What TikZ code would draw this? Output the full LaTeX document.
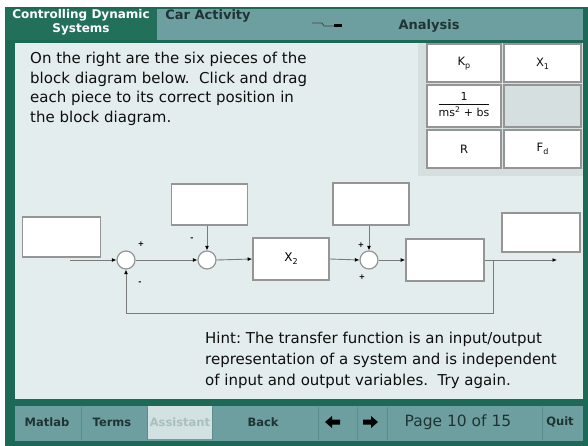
\documentclass[tikz,border=0pt]{standalone}
\usepackage{fontspec}
\setmainfont{DejaVu Sans}
\usetikzlibrary{arrows.meta}
\definecolor{framegreen}{HTML}{1C6A55}
\definecolor{tabgreen}{HTML}{22705A}
\definecolor{barteal}{HTML}{6E9FA0}
\definecolor{pagebg}{HTML}{E4EDED}
\definecolor{panelbg}{HTML}{D5DFDF}
\definecolor{boxline}{HTML}{959595}
\definecolor{wireclr}{HTML}{7A7A7A}
\definecolor{btntext}{HTML}{1E3434}
\definecolor{btndim}{HTML}{A9BEBE}
\definecolor{btnhi}{HTML}{D2E1E1}
\definecolor{sepline}{HTML}{5D8B8B}
\definecolor{bodytext}{HTML}{0E0E0E}
\begin{document}
\begin{tikzpicture}[x=1pt,y=-1pt,
  blk/.style={draw=boxline,line width=1.6pt,fill=white,inner sep=0pt,minimum width=76pt,minimum height=40pt},
  cell/.style={draw=boxline,line width=2pt,fill=white,inner sep=0pt,minimum width=74pt,minimum height=38pt,font=\fontsize{11.5}{11.5}\selectfont,text=bodytext},
  sumj/.style={circle,draw=boxline,line width=1.2pt,fill=white,minimum size=18pt,inner sep=0pt},
  wireln/.style={draw=wireclr,line width=0.9pt},
  arr/.style={wireln,-{Latex[length=4.5pt,width=4pt,color=black]}},
  sgn/.style={font=\fontsize{7.5}{7.5}\selectfont\bfseries,text=black,inner sep=0pt},
  bartext/.style={font=\fontsize{13}{13}\selectfont\bfseries,text=btntext,inner sep=0pt},
  btn/.style={font=\fontsize{11.5}{11.5}\selectfont\bfseries,text=btntext,inner sep=0pt},
  sep/.style={draw=sepline,line width=0.8pt}
]
\useasboundingbox (0,0) rectangle (588,446);
% window frame and panels
\fill[white] (0,0) rectangle (588,446);
\fill[framegreen] (5,7) rectangle (588,446);
\fill[barteal] (157,9) rectangle (583,40);
\fill[tabgreen] (6,9) rectangle (157,40);
\fill[pagebg] (15,43) rectangle (583,399);
\fill[barteal] (15,406) rectangle (583,441);

% title bar
\node[font=\fontsize{12}{14}\selectfont\bfseries,text=white,align=center,inner sep=0pt] (tab) at (81,22.5) {Controlling Dynamic\\Systems};
\node[bartext] (activity) at (208,16) {Car Activity};
\node[bartext] (analysis) at (429,26) {Analysis};
\draw[black!75,line width=0.8pt] (312,23) -- (322,23) -- (324,26) -- (336,26);
\fill[black] (334,24.5) rectangle (342,27.5);

% instructions
\node[anchor=north west,align=left,inner sep=0pt,font=\fontsize{15}{19.6}\selectfont,text=bodytext] (intro) at (30,52) {On the right are the six pieces of the\\block diagram below.\ \ Click and drag\\each piece to its correct position in\\the block diagram.};

% tray of pieces
\fill[panelbg] (418,43) rectangle (583,176);
\node[cell] (kp) at (464,63.5) {K\raisebox{-3pt}{\fontsize{8}{8}\selectfont p}};
\node[cell,minimum width=77pt] (xone) at (542.5,63.5) {X\raisebox{-3pt}{\fontsize{8}{8}\selectfont 1}};
\node[cell,minimum height=42pt] (plant) at (464,106) {\fontsize{11}{11}\selectfont\begin{tabular}{@{}c@{}}1\\[1pt]\hline\rule{0pt}{12pt}ms\textsuperscript{2} + bs\end{tabular}};
\node[cell,fill=panelbg,minimum width=77pt,minimum height=42pt] (slot) at (542.5,106) {};
\node[cell] (ref) at (464,149) {R};
\node[cell,minimum width=77pt] (dist) at (542.5,149) {F\raisebox{-3pt}{\fontsize{8}{8}\selectfont d}};

% block diagram
\node[blk,minimum width=78pt] (A) at (61.5,237) {};
\node[blk,minimum height=41pt] (B) at (209.5,204.5) {};
\node[blk,minimum height=42pt] (X2) at (291,259) {\fontsize{12}{12}\selectfont X\raisebox{-3pt}{\fontsize{8}{8}\selectfont 2}};
\node[blk,minimum height=42pt] (C) at (371,204) {};
\node[blk,minimum width=78pt,minimum height=42pt] (D) at (445,260) {};
\node[blk,minimum width=78pt,minimum height=39pt] (E) at (541,232.5) {};

\node[sumj] (s1) at (126,260) {};
\node[sumj] (s2) at (207,260) {};
\node[sumj] (s3) at (369,260) {};

\coordinate (in) at (70,260);
\coordinate (out) at (557,260);
\coordinate (br) at (493,260);
\coordinate (fb) at (493,313);

\draw[arr] (in) -- (s1.west);
\draw[arr] (s1.east) -- (s2.west);
\draw[arr] (B.south -| s2) -- (s2.north);
\draw[arr] (s2.east) -- (X2.west);
\draw[arr] (X2.east) -- (s3.west);
\draw[arr] (C.south -| s3) -- (s3.north);
\draw[arr] (s3.east) -- (D.west);
\draw[arr] (D.east) -- (out);
\draw[arr] (br) -- (fb) -| (s1.south);

% signs at the summing junctions
\node[sgn] (p1) at (141,244) {+};
\node[sgn] (m1) at (140,283) {-};
\node[sgn] (m2) at (192,239) {-};
\node[sgn] (p3a) at (361,245) {+};
\node[sgn] (p3b) at (362,277) {+};

% hint
\node[anchor=north west,align=left,inner sep=0pt,font=\fontsize{15}{21}\selectfont,text=bodytext] (hint) at (205,332) {Hint:\ The transfer function is an input/output\\representation of a system and is independent\\of input and output variables.\ \ Try again.};

% navigation bar
\fill[btnhi] (148,406) rectangle (212,439);
\foreach \x in {81,147,212,318,357,387,542} \draw[sep] (\x,407) -- (\x,440);
\node[btn] (matlab) at (47,422) {Matlab};
\node[btn] (terms) at (112,422) {Terms};
\node[btn,text=btndim] (assist) at (180,422) {Assistant};
\node[btn] (back) at (263,422) {Back};
\node[font=\fontsize{15.5}{15.5}\selectfont,text=btntext,inner sep=0pt] (page) at (458,422) {Page 10 of 15};
\node[btn] (quit) at (560,422) {Quit};
\fill[black] (325,422) -- (332,416) -- (332,419.5) -- (340,419.5) -- (340,424.5) -- (332,424.5) -- (332,428) -- cycle;
\fill[black] (378,422) -- (371,416) -- (371,419.5) -- (363,419.5) -- (363,424.5) -- (371,424.5) -- (371,428) -- cycle;
\end{tikzpicture}
\end{document}
